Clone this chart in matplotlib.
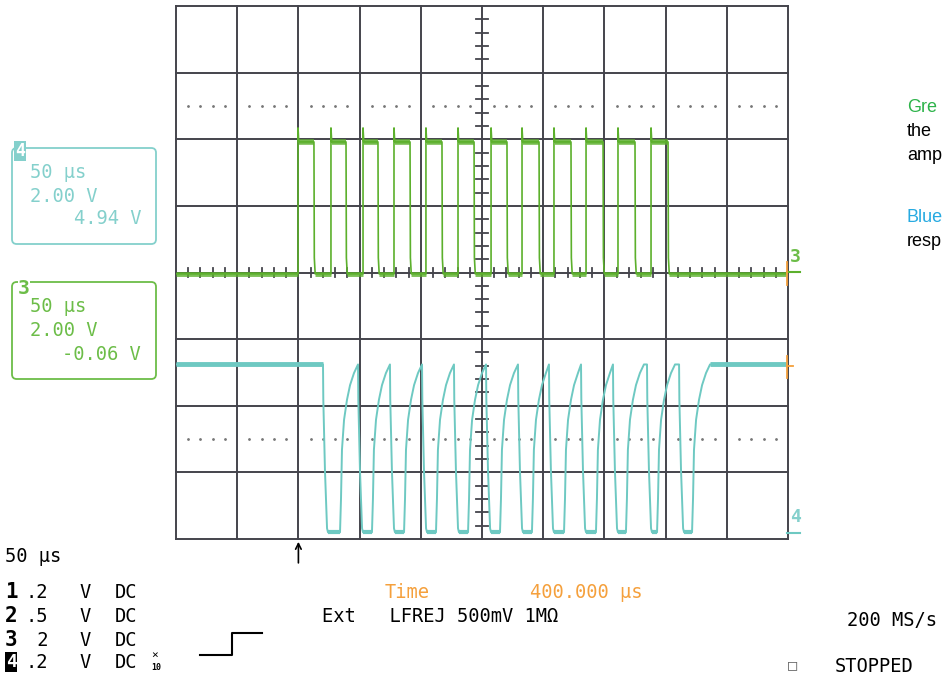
import numpy as np
import matplotlib
matplotlib.use('Agg')
import matplotlib.pyplot as plt
from matplotlib.patches import FancyBboxPatch
from matplotlib.lines import Line2D

W, H = 943, 678

# channel 3 (green) edge times in us, levels in divisions
ch3_rise = [99.7, 126.6, 152.8, 178.1, 204.2, 230.4, 257.4, 282.7, 308.8, 335.0, 361.1, 388.1]
ch3_fall = [112.7, 138.9, 165.0, 191.2, 217.3, 243.5, 270.4, 296.6, 322.7, 348.9, 375.0, 402.0]
ch3_low, ch3_high, ch3_peak, ch3_tail = -0.02, 1.96, 2.17, 0.22

# channel 4 (cyan) edge times in us
ch4_fall = [120.1, 148.7, 174.8, 201.0, 227.1, 253.3, 279.4, 304.7, 330.9, 357.0, 384.8, 411.0]
ch4_rise = [134.0, 160.1, 186.3, 212.4, 238.6, 264.7, 290.8, 317.0, 343.1, 367.6, 393.0, 421.6]
ch4_high, ch4_low = -1.38, -3.90
# shape of falling edge and of recovery (dt us, level div)
fall_dt = [0, 0.25, 1.6, 3.3, 4.1]
fall_lv = [-1.38, -1.91, -2.97, -3.84, -3.90]
rec_dt = [0, 0.8, 1.6, 3.3, 5.7, 8.2, 11.4, 14.7]
rec_lv = [-3.90, -3.40, -2.66, -2.21, -1.91, -1.69, -1.51, -1.38]

# side notes, as far as they are visible
notes = ['Gre', 'the', 'amp', 'Blue', 'resp']
notes_y = [107, 131, 155, 218, 242]
notes_c = ['#2db34a', 'black', 'black', '#27aae1', 'black']

grid_c = '#44444c'
green = '#5cb02c'
cyan = '#6ec9c2'
cyan_txt = '#84d0cc'
green_txt = '#6cbd48'
orange = '#f5a03c'
mono = 'DejaVu Sans Mono'

fig = plt.figure(figsize=(W / 100, H / 100), dpi=100)
ax = fig.add_axes([176 / W, 1 - 539 / H, 612 / W, 533 / H])
ax.set_xlim(0, 500)
ax.set_ylim(-4, 4)
ax.axis('off')

# graticule
for x in np.arange(0, 501, 50):
    ax.axvline(x, color=grid_c, lw=1.4, clip_on=False, zorder=1)
for y in np.arange(-4, 4.1, 1):
    ax.axhline(y, color=grid_c, lw=1.4, clip_on=False, zorder=1)
for x in np.arange(0, 500, 10):
    if x % 50:
        ax.plot([x, x], [-0.07, 0.07], color=grid_c, lw=1.3, zorder=1)
for y in np.arange(-4, 4.01, 0.2):
    if abs(y - round(y)) > 1e-6:
        ax.plot([245, 255], [y, y], color=grid_c, lw=1.3, zorder=1)
dots = [x for x in np.arange(10, 500, 10) if x % 50]
for yy in (2.5, -2.5):
    ax.plot(dots, [yy] * len(dots), ls='none', marker='.', ms=2, color='#777777', zorder=1)

# channel 3 trace
t3, y3 = [0.0], [ch3_low]
for r, f in zip(ch3_rise, ch3_fall):
    t3 += [r, r, r + 0.6, f, f + 0.3, f + 1.0]
    y3 += [ch3_low, ch3_peak, ch3_high, ch3_high, ch3_tail, ch3_low]
t3.append(500)
y3.append(ch3_low)
ax.plot(t3, y3, color=green, lw=1.2, zorder=3)
# noisy plateaus
lows = [0.0] + [f + 1.0 for f in ch3_fall]
highs = ch3_rise + [500]
for a, b in zip(lows, highs):
    ax.plot([a, b], [ch3_low, ch3_low], color=green, lw=3.5, alpha=0.8, zorder=3, solid_capstyle='butt')
for r, f in zip(ch3_rise, ch3_fall):
    ax.plot([r + 0.6, f], [ch3_high, ch3_high], color=green, lw=4, alpha=0.85, zorder=3, solid_capstyle='butt')

# channel 4 trace
t4, y4 = [0.0], [ch4_high]
for i, (f, r) in enumerate(zip(ch4_fall, ch4_rise)):
    t4 += [f + d for d in fall_dt]
    y4 += fall_lv
    nxt = ch4_fall[i + 1] if i + 1 < len(ch4_fall) else 500
    for d, v in zip(rec_dt, rec_lv):
        if r + d < nxt:
            t4.append(r + d)
            y4.append(v)
t4.append(500)
y4.append(ch4_high)
ax.plot(t4, y4, color=cyan, lw=1.4, zorder=3)
ax.plot([0, ch4_fall[0]], [ch4_high, ch4_high], color=cyan, lw=3.5, zorder=3, solid_capstyle='butt')
ax.plot([ch4_rise[-1] + rec_dt[-1], 500], [ch4_high, ch4_high], color=cyan, lw=3.5, zorder=3, solid_capstyle='butt')
for f, r in zip(ch4_fall, ch4_rise):
    ax.plot([f + fall_dt[-1], r], [ch4_low, ch4_low], color=cyan, lw=3, zorder=3, solid_capstyle='butt')

# trigger arrow
ax.annotate('', xy=(100, -4.0), xytext=(100, -4.4), annotation_clip=False,
            arrowprops=dict(arrowstyle='->', color='black', lw=1.2))


def fx(px):
    return px / W


def fy(py):
    return 1 - py / H


def ftext(px, py, s, **kw):
    kw.setdefault('family', mono)
    kw.setdefault('fontsize', 13.5)
    kw.setdefault('va', 'center')
    fig.text(fx(px), fy(py), s, **kw)


def fline(xs, ys, **kw):
    fig.add_artist(Line2D([fx(v) for v in xs], [fy(v) for v in ys], **kw))


# reference markers on the right edge
fline([787, 800], [272, 272], color=green, lw=1.5)
ftext(790, 257, '3', color=green_txt, fontweight='bold', fontsize=13)
fline([787, 800], [533, 533], color=cyan, lw=1.5)
ftext(790, 517, '4', color=cyan_txt, fontweight='bold', fontsize=13)
fline([787, 787], [262, 285], color=orange, lw=1.3)
fline([787, 787], [356, 378], color=orange, lw=1.3)
fline([787, 793], [366, 366], color=orange, lw=1.3)

# channel boxes
for (top, bot, col) in [(148, 244, cyan_txt), (282, 379, green_txt)]:
    fig.add_artist(FancyBboxPatch((fx(12), fy(bot)), (156 - 12) / W, (bot - top) / H,
                                  boxstyle='round,pad=0,rounding_size=0.005',
                                  mutation_aspect=W / H, transform=fig.transFigure,
                                  fill=False, edgecolor=col, lw=1.3))
ftext(15, 151, '4', color='white', fontweight='bold', fontsize=12,
      bbox=dict(facecolor=cyan_txt, edgecolor='none', pad=0.5))
ftext(30, 172, '50 μs', color=cyan_txt)
ftext(30, 196, '2.00 V', color=cyan_txt)
ftext(141, 219, '4.94 V', color=cyan_txt, ha='right')
ftext(18, 289, '3', color=green_txt, fontweight='bold', fontsize=14,
      bbox=dict(facecolor='white', edgecolor='none', pad=0.3))
ftext(30, 306, '50 μs', color=green_txt)
ftext(30, 330, '2.00 V', color=green_txt)
ftext(141, 354, '-0.06 V', color=green_txt, ha='right')

# bottom status area
ftext(5, 556, '50 μs', color='black')
rows = [('1', '.2'), ('2', '.5'), ('3', ' 2'), ('4', '.2')]
row_y = [592, 616, 640, 662]
for (ch, v), yy in zip(rows, row_y):
    if ch == '4':
        ftext(6, yy, ch, color='white', fontweight='bold', fontsize=13,
              bbox=dict(facecolor='black', edgecolor='none', pad=0.4))
    else:
        ftext(5, yy, ch, color='black', fontweight='bold', fontsize=15)
    ftext(26, yy, v, color='black')
    ftext(79, yy, 'V', color='black')
    ftext(115, yy, 'DC', color='black')
ftext(151, 655, '×', color='black', fontsize=8)
ftext(151, 667, '10', color='black', fontsize=6, fontweight='bold')
fline([200, 232, 232, 262], [655, 655, 633, 633], color='black', lw=1.5)

ftext(385, 592, 'Time', color=orange)
ftext(530, 592, '400.000 μs', color=orange)
ftext(322, 617, 'Ext   LFREJ 500mV 1MΩ', color='black')
ftext(847, 620, '200 MS/s', color='black')
ftext(788, 665, '□', color='#666666', fontsize=11)
ftext(835, 666, 'STOPPED', color='black')

# side notes
for s, yy, c in zip(notes, notes_y, notes_c):
    ftext(907, yy, s, color=c, family='Liberation Sans', fontsize=13)

fig.savefig('out.png', dpi=100, facecolor='white')
